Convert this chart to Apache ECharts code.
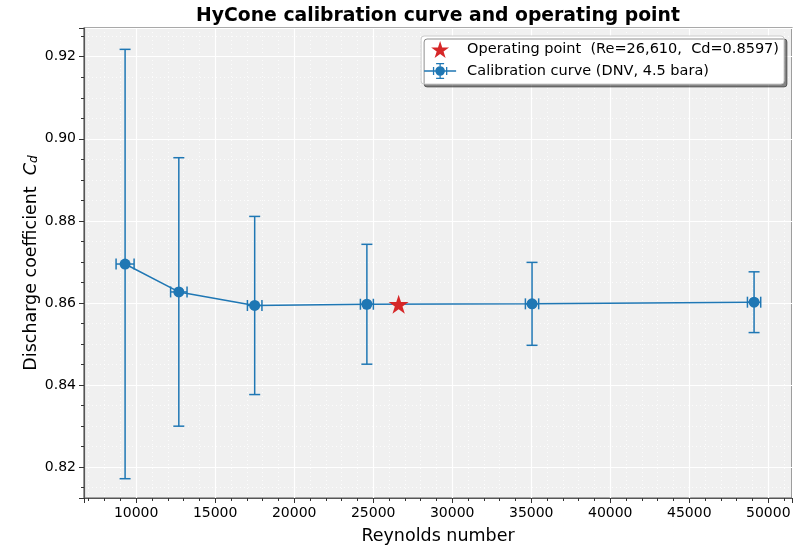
<!DOCTYPE html>
<html>
<head>
<meta charset="utf-8">
<title>HyCone calibration curve</title>
<script src="https://cdn.jsdelivr.net/npm/echarts@6/dist/echarts.min.js"></script>
<style>
  html, body { margin: 0; padding: 0; background: #fff; }
  #chart { width: 800px; height: 545px; }
</style>
</head>
<body>
<div id="chart"></div>
<script>
// calibration points
const reynolds = [9300, 12700, 17500, 24600, 35050, 49100];
const cdValues = [0.8695, 0.8627, 0.8594, 0.8597, 0.8598, 0.8602];
const cdErr = [0.0523, 0.0327, 0.0217, 0.0146, 0.0101, 0.0074];
const reErr = [570, 520, 460, 410, 420, 420];
// operating point
const opRe = [26610];
const opCd = [0.8597];

const blue = '#1f77b4';
const red = '#d62728';
const font = 'DejaVu Sans';

const starPath = 'path://M50 0 L61.23 34.55 L97.55 34.55 L68.17 55.9 L79.39 90.45 L50 69.1 L20.61 90.45 L31.83 55.9 L2.45 34.55 L38.77 34.55 Z';
const errIcon = 'path://M0 9.2 H40 V10.8 H0 Z M19.2 1 H20.8 V19 H19.2 Z M15 0 H25 V1.6 H15 Z M15 18.4 H25 V20 H15 Z ' +
  'M11 5 H12.6 V15 H11 Z M27.4 5 H29 V15 H27.4 Z M14 10 A6 6 0 1 1 26 10 A6 6 0 1 1 14 10 Z';

let curve = reynolds.map((re, i) => [re, cdValues[i]]);
let errData = reynolds.map((re, i) => [re, cdValues[i], reErr[i], cdErr[i]]);
let opData = opRe.map((re, i) => [re, opCd[i]]);

function renderErr (params, api) {
  let x = api.value(0), y = api.value(1), ex = api.value(2), ey = api.value(3);
  let top = api.coord([x, y + ey]);
  let bot = api.coord([x, y - ey]);
  let left = api.coord([x - ex, y]);
  let right = api.coord([x + ex, y]);
  let cap = 5.5;
  let style = { stroke: blue, lineWidth: 1.5, fill: null };
  let line = (x1, y1, x2, y2) => ({ type: 'line', shape: { x1, y1, x2, y2 }, style });
  return {
    type: 'group',
    children: [
      line(top[0], top[1], bot[0], bot[1]),
      line(top[0] - cap, top[1], top[0] + cap, top[1]),
      line(bot[0] - cap, bot[1], bot[0] + cap, bot[1]),
      line(left[0], left[1], right[0], right[1]),
      line(left[0], left[1] - cap, left[0], left[1] + cap),
      line(right[0], right[1] - cap, right[0], right[1] + cap)
    ]
  };
}

const chart = echarts.init(document.getElementById('chart'), null, { renderer: 'canvas' });

const option = {
  animation: false,
  backgroundColor: '#fff',
  textStyle: { fontFamily: font },
  title: {
    text: 'HyCone calibration curve and operating point',
    left: 433,
    top: 2,
    textAlign: 'center',
    textStyle: { fontFamily: font, fontSize: 18.8, fontWeight: 'bold', color: '#000' }
  },
  legend: {
    orient: 'vertical',
    right: 16,
    top: 36,
    padding: [5, 5, 5, 3],
    itemGap: 5,
    itemWidth: 32,
    itemHeight: 17,
    backgroundColor: '#fff',
    borderColor: '#cccccc',
    borderWidth: 1,
    borderRadius: 3,
    shadowColor: 'rgba(0,0,0,0.45)',
    shadowBlur: 0,
    shadowOffsetX: 3,
    shadowOffsetY: 3,
    textStyle: { fontFamily: font, fontSize: 14.5, color: '#000', padding: [0, 0, 0, 6] },
    data: [
      { name: 'Operating point  (Re=26,610,  Cd=0.8597)', icon: starPath },
      { name: 'Calibration curve (DNV, 4.5 bara)', icon: errIcon }
    ]
  },
  grid: {
    left: 84,
    right: 8,
    top: 28,
    bottom: 47,
    outerBoundsMode: 'none',
    show: true,
    backgroundColor: '#f0f0f0',
    borderColor: '#555',
    borderWidth: 1.2
  },
  xAxis: {
    type: 'value',
    min: 6700,
    max: 51500,
    splitNumber: 8,
    name: 'Reynolds number',
    nameLocation: 'middle',
    nameGap: 29,
    nameTextStyle: { fontFamily: font, fontSize: 17.5, color: '#000' },
    axisLine: { show: true, onZero: false, lineStyle: { color: '#555', width: 1.2 } },
    axisTick: { show: true, length: 5, lineStyle: { color: '#333' } },
    minorTick: { show: true, splitNumber: 5, length: 3, lineStyle: { color: '#333' } },
    axisLabel: {
      showMinLabel: false,
      showMaxLabel: false,
      color: '#000',
      fontSize: 14,
      margin: 8,
      formatter: v => String(v)
    },
    splitLine: { show: true, lineStyle: { color: '#fff', width: 1.2 } },
    minorSplitLine: { show: true, lineStyle: { color: '#fff', width: 0.8, type: [1, 3] } }
  },
  yAxis: {
    type: 'value',
    min: 0.8125,
    max: 0.927,
    splitNumber: 6,
    name: 'Discharge coefficient  {c|C}{d|d}',
    nameLocation: 'middle',
    nameGap: 44,
    nameMoveOverlap: false,
    nameTextStyle: {
      fontFamily: font,
      fontSize: 17.5,
      color: '#000',
      rich: {
        c: { fontFamily: font, fontSize: 17.5, fontStyle: 'italic', color: '#000' },
        d: { fontFamily: font, fontSize: 12, fontStyle: 'italic', color: '#000', verticalAlign: 'bottom', padding: [6, 0, 0, 0] }
      }
    },
    axisLine: { show: true, onZero: false, lineStyle: { color: '#555', width: 1.2 } },
    axisTick: { show: true, length: 5, lineStyle: { color: '#333' } },
    minorTick: { show: true, splitNumber: 4, length: 3, lineStyle: { color: '#333' } },
    axisLabel: {
      showMinLabel: false,
      showMaxLabel: false,
      color: '#000',
      fontSize: 14,
      margin: 8,
      formatter: v => v.toFixed(2)
    },
    splitLine: { show: true, lineStyle: { color: '#fff', width: 1.2 } },
    minorSplitLine: { show: true, lineStyle: { color: '#fff', width: 0.8, type: [1, 3] } }
  },
  series: [
    {
      name: 'errbars',
      type: 'custom',
      data: errData,
      encode: { x: 0, y: 1 },
      renderItem: renderErr,
      z: 2,
      silent: true
    },
    {
      name: 'Calibration curve (DNV, 4.5 bara)',
      type: 'line',
      data: curve,
      color: blue,
      symbol: 'circle',
      symbolSize: 11,
      lineStyle: { color: blue, width: 1.5 },
      itemStyle: { color: blue, opacity: 1 },
      z: 3
    },
    {
      name: 'Operating point  (Re=26,610,  Cd=0.8597)',
      type: 'scatter',
      data: opData,
      color: red,
      symbol: starPath,
      symbolSize: 20,
      symbolKeepAspect: true,
      itemStyle: { color: red, opacity: 1 },
      z: 4
    }
  ]
};

chart.setOption(option);
</script>
</body>
</html>
